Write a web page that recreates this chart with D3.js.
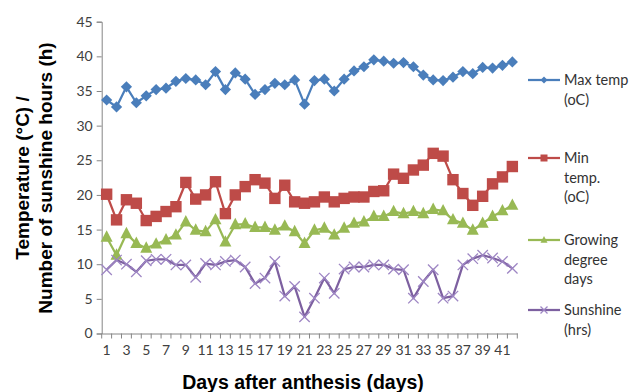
<!DOCTYPE html>
<html><head><meta charset="utf-8">
<script src="https://cdn.jsdelivr.net/npm/d3@7"></script>
<style>body{margin:0;background:#fff}</style>
</head><body>
<svg id="c" width="633" height="392"></svg>
<script>
const days = d3.range(1, 43);
const xTickLabels = d3.range(1, 42, 2);
const yTicks = [0,5,10,15,20,25,30,35,40,45];
const seriesNames = ["Max temp", "Min temp.", "Growing degree days", "Sunshine (hrs)"];
const legendLines = [["Max temp","(oC)"],["Min","temp.","(oC)"],["Growing","degree","days"],["Sunshine","(hrs)"]];
const maxTemp = [33.7,32.7,35.6,33.3,34.3,35.2,35.4,36.4,36.8,36.6,35.9,37.8,35.2,37.6,36.7,34.5,35.2,36.1,35.9,36.6,33.1,36.5,36.7,35.0,36.7,37.9,38.5,39.5,39.3,39.0,39.1,38.5,37.3,36.6,36.5,37.0,37.8,37.5,38.4,38.3,38.7,39.2];
const minTemp = [20.1,16.4,19.3,18.8,16.3,16.9,17.6,18.3,21.8,19.4,20.0,21.9,17.3,20.0,21.2,22.2,21.7,19.5,21.4,19.0,18.8,19.0,19.7,19.0,19.5,19.7,19.7,20.5,20.6,23.0,22.4,23.6,24.3,26.0,25.6,22.2,20.2,18.5,19.8,21.6,22.6,24.1];
const gdd = [13.9,11.3,14.4,13.0,12.3,12.9,13.5,14.2,16.1,14.9,14.7,16.4,13.2,15.7,15.8,15.3,15.3,14.9,15.5,14.7,13.0,14.9,15.2,14.2,15.2,15.9,16.1,16.9,16.9,17.6,17.3,17.6,17.3,17.9,17.7,16.4,15.9,14.9,15.9,16.9,17.7,18.5];
const sunshine = [9.2,10.6,10.0,8.9,10.5,10.7,10.7,9.9,9.9,8.1,10.1,9.9,10.4,10.6,9.6,7.2,8.0,10.4,5.4,6.8,2.4,5.1,8.0,5.8,9.3,9.6,9.6,9.9,9.9,9.3,9.2,5.1,7.5,9.2,5.1,5.4,9.9,10.8,11.3,10.9,10.4,9.4];

const colors = ["#4A7EBB","#BE4B48","#98B954","#7D60A0"];
const markerColors = ["#4A7EBB","#BE4B48","#98B954","#9E86C4"];
const markers = ["diamond","square","triangle","cross"];
const allSeries = [maxTemp, minTemp, gdd, sunshine];

const svg = d3.select("#c");
const L = 101.7, R = 517.3, T = 21.7, B = 333.5;
const x = d3.scaleBand().domain(days).range([L, R]);
const y = d3.scaleLinear().domain([0,45]).range([B, T]);
const axisColor = "#868686";
const tickFont = "Lato, 'Open Sans', sans-serif";

// Y axis
const gy = svg.append("g").attr("transform", `translate(${L},0)`)
  .call(d3.axisLeft(y).tickValues(yTicks).tickSize(5).tickPadding(4));
gy.select(".domain").attr("stroke", axisColor).attr("stroke-width", 1);
gy.selectAll(".tick line").attr("stroke", axisColor);
gy.selectAll(".tick text").attr("fill", "#404040").style("font-family", tickFont).style("font-size", "14px");

// X axis
const gx = svg.append("g").attr("transform", `translate(0,${B})`)
  .call(d3.axisBottom(x).tickValues(xTickLabels).tickSize(0).tickPadding(12));
gx.select(".domain").attr("stroke", axisColor).attr("stroke-width", 1);
gx.selectAll(".tick text").attr("fill", "#404040").style("font-family", tickFont).style("font-size", "14px");
// category boundary tick marks
svg.append("g").selectAll("line").data(days.concat([43])).join("line")
  .attr("x1", d => d <= 42 ? x(d) : R).attr("x2", d => d <= 42 ? x(d) : R)
  .attr("y1", B).attr("y2", B + 5).attr("stroke", axisColor);

const cx = d => x(d) + x.bandwidth() / 2;

function drawMarker(g, type, px, py, color, s) {
  if (type === "diamond") {
    g.append("path").attr("d", `M${px},${py-s}L${px+s},${py}L${px},${py+s}L${px-s},${py}Z`).attr("fill", color);
  } else if (type === "square") {
    g.append("rect").attr("x", px - s).attr("y", py - s).attr("width", 2*s).attr("height", 2*s).attr("fill", color);
  } else if (type === "triangle") {
    g.append("path").attr("d", `M${px},${py-s*1.15}L${px+s},${py+s*0.75}L${px-s},${py+s*0.75}Z`).attr("fill", color);
  } else {
    g.append("path").attr("d", `M${px-s},${py-s}L${px+s},${py+s}M${px+s},${py-s}L${px-s},${py+s}`)
      .attr("stroke", color).attr("stroke-width", 1.3).attr("fill", "none");
  }
}
const sizes = [5.6, 5.7, 6, 5.2];

allSeries.forEach((vals, i) => {
  const g = svg.append("g");
  const line = d3.line().x((v, j) => cx(days[j])).y(v => y(v));
  g.append("path").datum(vals).attr("d", line).attr("fill", "none")
    .attr("stroke", colors[i]).attr("stroke-width", 2.25).attr("stroke-linejoin", "round");
  vals.forEach((v, j) => drawMarker(g, markers[i], cx(days[j]), y(v), markerColors[i], sizes[i]));
});

// Legend
const legendFont = "Lato, 'Open Sans', sans-serif";
const legendTop = [80, 158, 240, 310];
legendLines.forEach((lines, i) => {
  const g = svg.append("g");
  const ly = legendTop[i];
  g.append("line").attr("x1", 528).attr("x2", 560).attr("y1", ly).attr("y2", ly)
    .attr("stroke", colors[i]).attr("stroke-width", 2.25);
  drawMarker(g, markers[i], 544, ly, markerColors[i], 3.5);
  lines.forEach((t, k) => {
    g.append("text").attr("x", 564).attr("y", ly + k * 19.5).attr("dy", "0.35em")
      .attr("fill", "#333").style("font-family", legendFont).style("font-size", "14.5px").text(t);
  });
});

// Axis titles
svg.append("text").attr("x", 303).attr("y", 389).attr("text-anchor", "middle")
  .style("font-family", "'Liberation Sans', Arial, sans-serif").style("font-weight", "bold").style("font-size", "19.5px")
  .attr("fill", "#000").text("Days after anthesis (days)");
const yt = svg.append("text").attr("transform", "translate(0,178) rotate(-90)").attr("text-anchor", "middle")
  .style("font-family", "'Liberation Sans', Arial, sans-serif").style("font-weight", "bold").style("font-size", "19px").attr("fill", "#000");
yt.append("tspan").attr("x", 0).attr("y", 28.5).text("Temperature (°C) /");
yt.append("tspan").attr("x", 0).attr("y", 52).text("Number of sunshine hours (h)");
</script>
</body></html>
